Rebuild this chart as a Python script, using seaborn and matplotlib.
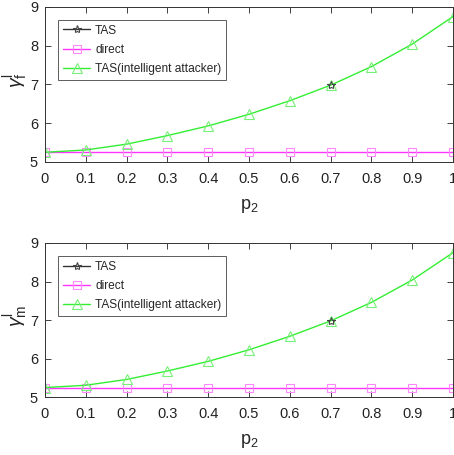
import numpy as np
import pandas as pd
import seaborn as sns
import matplotlib.pyplot as plt

# data
p2 = [0, 0.1, 0.2, 0.3, 0.4, 0.5, 0.6, 0.7, 0.8, 0.9, 1.0]
tas_intelligent = [5.25, 5.31, 5.46, 5.68, 5.93, 6.23, 6.58, 6.98, 7.46, 8.04, 8.75]
direct = [5.25] * 11
tas_p2 = [0.7]
tas = [6.98]

xticklabels = ["0", "0.1", "0.2", "0.3", "0.4", "0.5", "0.6", "0.7", "0.8", "0.9", "1"]
ylabels = [r'$\gamma^{\mathrm{l}}_{\mathrm{f}}$', r'$\gamma^{\mathrm{l}}_{\mathrm{m}}$']

sns.set_style("ticks")
plt.rcParams['font.family'] = ['Liberation Sans', 'DejaVu Sans']
plt.rcParams['mathtext.fontset'] = 'custom'
plt.rcParams['mathtext.rm'] = 'Liberation Sans'
plt.rcParams['mathtext.it'] = 'Liberation Sans:italic'

fig = plt.figure(figsize=(4.54, 4.55), dpi=100)
positions = [[0.099, 0.644, 0.899, 0.341], [0.099, 0.127, 0.899, 0.339]]

df_g = pd.DataFrame({"p2": p2, "val": tas_intelligent})
df_m = pd.DataFrame({"p2": p2, "val": direct})
df_t = pd.DataFrame({"p2": tas_p2, "val": tas})

for pos, ylab in zip(positions, ylabels):
    ax = fig.add_axes(pos)
    sns.lineplot(data=df_t, x="p2", y="val", ax=ax, color="#333333", marker="*",
                 markersize=6, markerfacecolor="none", markeredgecolor="#444444",
                 markeredgewidth=0.8, linewidth=1, label="TAS")
    sns.lineplot(data=df_m, x="p2", y="val", ax=ax, color="#ff33ff", marker="s",
                 markersize=6, markerfacecolor="none", markeredgecolor="#ff88ff",
                 markeredgewidth=0.8, linewidth=1, label="direct")
    sns.lineplot(data=df_g, x="p2", y="val", ax=ax, color="#33ee33", marker="^",
                 markersize=7, markerfacecolor="none", markeredgecolor="#77f077",
                 markeredgewidth=0.8, linewidth=1, label="TAS(intelligent attacker)")
    # put TAS star on top
    ax.lines[0].set_zorder(5)
    ax.set_xlim(0, 1)
    ax.set_ylim(5, 9)
    ax.set_xticks(np.arange(0, 1.01, 0.1))
    ax.set_xticklabels(xticklabels)
    ax.set_yticks([5, 6, 7, 8, 9])
    ax.tick_params(direction="in", top=True, right=True, labelsize=10.5, length=4,
                   width=0.6, colors="#222222")
    ax.tick_params(axis="x", pad=7)
    ax.tick_params(axis="y", pad=5)
    for s in ax.spines.values():
        s.set_linewidth(0.7)
        s.set_color("#333333")
    ax.set_xlabel(r'p$_2$', fontsize=13, labelpad=8)
    ax.set_ylabel(ylab, fontsize=14)
    ax.yaxis.set_label_coords(-0.036, 0.53)
    leg = ax.legend(loc="upper left", bbox_to_anchor=(0.032, 0.916), fontsize=8.6,
                    frameon=True, fancybox=False, edgecolor="#333333",
                    handlelength=2.3, borderpad=0.4, labelspacing=0.6, handletextpad=0.4,
                    borderaxespad=0)
    leg.get_frame().set_linewidth(0.7)

fig.savefig("out.png", dpi=100)
